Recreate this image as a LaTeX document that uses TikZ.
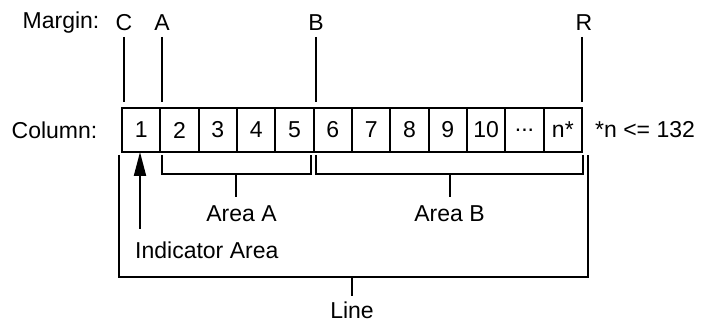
\documentclass[tikz,border=0pt]{standalone}
\usepackage{fontspec}
\setmainfont{Liberation Sans}
\usetikzlibrary{arrows.meta}
\begin{document}
\begin{tikzpicture}[x=1pt,y=1pt,
  every node/.style={font=\fontsize{23}{26}\selectfont, inner sep=0pt},
  cell/.style={draw, line width=2pt, minimum width=38.33pt, minimum height=44pt, outer sep=0pt},
  nextcell/.style={cell, anchor=west},
  rule/.style={line width=2pt},
  pointer/.style={line width=2pt, -{Triangle[length=24pt,width=12pt]}}]
\useasboundingbox (0,0) rectangle (710,323);

% row of column cells
\node[cell] (c1) at (141.2,193) {1};
\node[nextcell] (c2) at (c1.east) {2};
\node[nextcell] (c3) at (c2.east) {3};
\node[nextcell] (c4) at (c3.east) {4};
\node[nextcell] (c5) at (c4.east) {5};
\node[nextcell] (c6) at (c5.east) {6};
\node[nextcell] (c7) at (c6.east) {7};
\node[nextcell] (c8) at (c7.east) {8};
\node[nextcell] (c9) at (c8.east) {9};
\node[nextcell] (c10) at (c9.east) {10};
\node[nextcell] (c11) at (c10.east) {.\kern0pt.\kern0pt.};
\node[nextcell] (c12) at (c11.east) {n*};

% side labels
\node (col) at (54.5,193) {Column:};
\node[anchor=west] (note) at (595,193) {*n <= 132};
\node (mar) at (61,300) {Margin:};

% margin labels and their rules
\node (mC) at (124,300) {C};
\node (mA) at (162,300) {A};
\node (mB) at (316,300) {B};
\node (mR) at (584,300) {R};
\coordinate (tC) at (124,286);
\coordinate (tA) at (162,286);
\coordinate (tB) at (316,286);
\coordinate (tR) at (582,286);
\draw[rule] (tC) -- (124,221);
\draw[rule] (tA) -- (162,221);
\draw[rule] (tB) -- (316,221);
\draw[rule] (tR) -- (582,221);

% Area A bracket
\draw[rule] (162,168) |- (311,149) -- (311,168);
\draw[rule] (236,149) -- (236,126);
\node (areaA) at (241.5,109) {Area A};

% Area B bracket
\draw[rule] (316,168) |- (583,149) -- (583,168);
\draw[rule] (450,149) -- (450,126);
\node (areaB) at (449.5,109) {Area B};

% indicator area
\node[anchor=west] (ind) at (135,73) {Indicator Area};
\coordinate (indtail) at (140,94);
\draw[pointer] (indtail) -- (indtail |- c1.south);

% whole line bracket
\draw[rule] (119,168) |- (588,46) -- (588,168);
\draw[rule] (352,46) -- (352,27);
\node (line) at (352,13) {Line};
\end{tikzpicture}
\end{document}
